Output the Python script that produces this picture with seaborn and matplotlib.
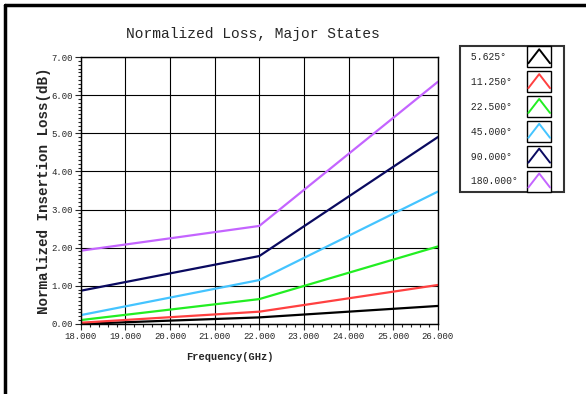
import pandas as pd
import matplotlib
matplotlib.use("Agg")
import matplotlib.pyplot as plt
import seaborn as sns
from matplotlib.ticker import MultipleLocator, FormatStrFormatter
from matplotlib.legend_handler import HandlerBase
from matplotlib.patches import Rectangle
from matplotlib.lines import Line2D

# data
freq = [18.0, 22.0, 26.0]
states = ["5.625°", "11.250°", "22.500°", "45.000°", "90.000°", "180.000°"]
loss_5625 = [0.00, 0.17, 0.47]
loss_11250 = [0.03, 0.32, 1.02]
loss_22500 = [0.10, 0.65, 2.03]
loss_45000 = [0.23, 1.15, 3.47]
loss_90000 = [0.87, 1.78, 4.90]
loss_180000 = [1.92, 2.57, 6.35]
colors = ["#000000", "#ff4040", "#22ee22", "#44c4ff", "#0a0a60", "#c464ff"]

all_loss = [loss_5625, loss_11250, loss_22500, loss_45000, loss_90000, loss_180000]
rows = []
for s, vals in zip(states, all_loss):
    for f, v in zip(freq, vals):
        rows.append({"Frequency": f, "Loss": v, "State": s})
df = pd.DataFrame(rows)

sns.set_style("white")
plt.rcParams["font.family"] = ["Liberation Mono", "DejaVu Sans Mono"]


class HandlerBoxChevron(HandlerBase):
    # small framed box with a chevron, leaving a gap on its right
    def create_artists(self, legend, orig_handle, xdescent, ydescent,
                       width, height, fontsize, trans):
        c = orig_handle.get_color()
        x0 = -xdescent
        y0 = -ydescent
        bw = width - 5.5
        box = Rectangle((x0, y0 - 3.5), bw, height + 7,
                        facecolor="white", edgecolor="black", lw=1.0,
                        transform=trans)
        xs = [x0 + 1.0, x0 + bw / 2, x0 + bw - 1.0]
        ys = [y0 - 0.5, y0 + height + 1.5, y0 - 0.5]
        ln = Line2D(xs, ys, color=c, lw=1.4, transform=trans)
        return [box, ln]


fig = plt.figure(figsize=(5.86, 3.94), dpi=100)
ax = fig.add_axes([0.138, 0.178, 0.609, 0.677])

sns.lineplot(data=df, x="Frequency", y="Loss", hue="State", hue_order=states,
             palette=colors, linewidth=1.6, ax=ax, legend=False)

ax.set_xlim(18, 26)
ax.set_ylim(0, 7)
ax.xaxis.set_major_locator(MultipleLocator(1))
ax.xaxis.set_minor_locator(MultipleLocator(0.2))
ax.yaxis.set_major_locator(MultipleLocator(1))
ax.yaxis.set_minor_locator(MultipleLocator(0.1))
ax.xaxis.set_major_formatter(FormatStrFormatter("%.3f"))
ax.yaxis.set_major_formatter(FormatStrFormatter("%.2f"))
ax.grid(True, which="major", color="black", lw=0.8)
ax.tick_params(which="major", direction="out", length=4, width=0.8,
               labelsize=6.5, bottom=True, left=True, pad=2)
ax.tick_params(which="minor", direction="out", length=2.2, width=0.8,
               bottom=True, left=True)
for sp in ax.spines.values():
    sp.set_color("black")
    sp.set_linewidth(1.0)

ax.set_xlabel("Frequency(GHz)", fontsize=7.5, fontweight="bold")
ax.xaxis.set_label_coords(0.417, -0.105)
ax.set_ylabel("Normalized Insertion Loss(dB)", fontsize=10.3,
              fontweight="bold")
ax.yaxis.set_label_coords(-0.084, 0.5)
fig.text(253 / 586, 1 - 34 / 394, "Normalized Loss, Major States",
         fontsize=10.5, ha="center", va="center")

handles = [Line2D([], [], color=c) for c in colors]
labels = [(" " + s).ljust(9) for s in states]
leg = fig.legend(handles, labels, loc="upper left",
                 bbox_to_anchor=(460 / 586, 1 - 46 / 394), markerfirst=False,
                 handler_map={Line2D: HandlerBoxChevron()},
                 handlelength=3.3, handleheight=1.4, labelspacing=1.4,
                 handletextpad=0.9, borderpad=0.55, fontsize=7,
                 fancybox=False, frameon=True, borderaxespad=0)
leg.get_frame().set_edgecolor("black")
leg.get_frame().set_linewidth(1.5)

# outer border, left and top
fig.add_artist(Line2D([0.009, 0.009], [0.0, 0.988], color="black", lw=2.5,
                      transform=fig.transFigure))
fig.add_artist(Line2D([0.009, 1.0], [0.988, 0.988], color="black", lw=2.5,
                      transform=fig.transFigure))

fig.savefig("out.png", dpi=100)
